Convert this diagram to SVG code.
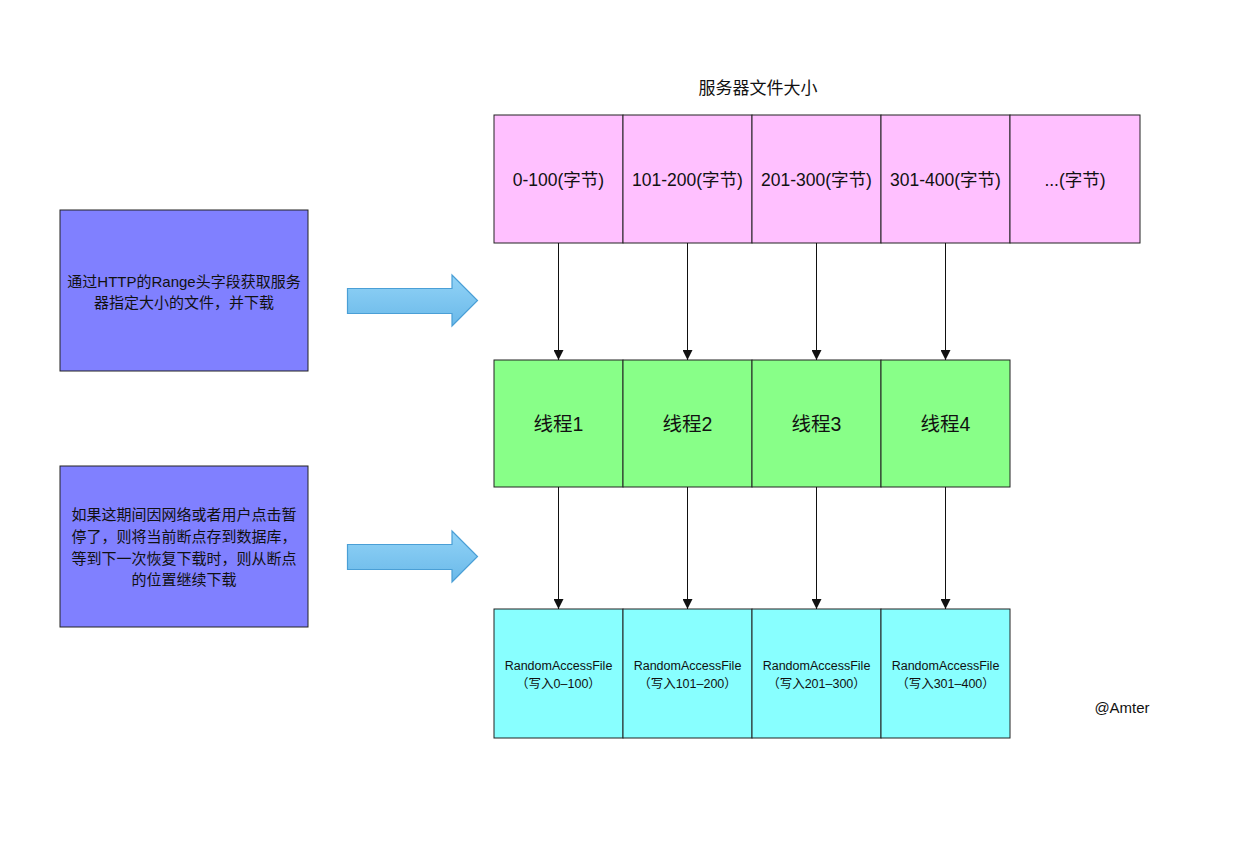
<svg xmlns="http://www.w3.org/2000/svg" width="1240" height="854" viewBox="0 0 1240 854">
<style>
text{font-family:"Liberation Sans","Noto Sans CJK SC",sans-serif;fill:#111;text-anchor:middle}
.box{stroke:#222;stroke-width:1}
.pink{fill:#FFC0FF}
.green{fill:#88FF88}
.cyan{fill:#88FFFF}
.purple{fill:#8080FF}
.t17{font-size:17.5px}
.title{font-size:17px}
.t19{font-size:19.5px}
.t15{font-size:15px}
.t12{font-size:12.5px}
.conn{stroke:#111;stroke-width:1;fill:none;marker-end:url(#ah)}
.barrow{fill:url(#bg);stroke:#4A9FD6;stroke-width:1.2}
</style>
<defs>
<marker id="ah" viewBox="0 0 10 10" refX="10" refY="5" markerWidth="11" markerHeight="10" markerUnits="userSpaceOnUse" orient="auto">
<path d="M0,0 L10,5 L0,10 z" fill="#111"/>
</marker>
<linearGradient id="bg" x1="0" y1="0" x2="0" y2="1">
<stop offset="0" stop-color="#92D3F7"/>
<stop offset="1" stop-color="#6AB9E9"/>
</linearGradient>
</defs>
<rect width="1240" height="854" fill="#fff"/>

<text id="title" class="title" x="758" y="94">服务器文件大小</text>

<g id="server-file">
<g id="seg1"><rect class="box pink" x="494" y="115" width="129" height="128"/><text class="t17" x="558.5" y="186">0-100(字节)</text></g>
<g id="seg2"><rect class="box pink" x="623" y="115" width="129" height="128"/><text class="t17" x="687.5" y="186">101-200(字节)</text></g>
<g id="seg3"><rect class="box pink" x="752" y="115" width="129" height="128"/><text class="t17" x="816.5" y="186">201-300(字节)</text></g>
<g id="seg4"><rect class="box pink" x="881" y="115" width="129" height="128"/><text class="t17" x="945.5" y="186">301-400(字节)</text></g>
<g id="seg5"><rect class="box pink" x="1010" y="115" width="130" height="128"/><text class="t17" x="1075" y="186">...(字节)</text></g>
</g>

<g id="threads">
<g id="thread1"><rect class="box green" x="494" y="360" width="129" height="127"/><text class="t19" x="558.5" y="431">线程1</text></g>
<g id="thread2"><rect class="box green" x="623" y="360" width="129" height="127"/><text class="t19" x="687.5" y="431">线程2</text></g>
<g id="thread3"><rect class="box green" x="752" y="360" width="129" height="127"/><text class="t19" x="816.5" y="431">线程3</text></g>
<g id="thread4"><rect class="box green" x="881" y="360" width="129" height="127"/><text class="t19" x="945.5" y="431">线程4</text></g>
</g>

<g id="files">
<g id="raf1"><rect class="box cyan" x="494" y="609" width="129" height="129"/><text class="t12" x="558.5" y="670">RandomAccessFile</text><text class="t12" x="558.5" y="688">（写入0–100）</text></g>
<g id="raf2"><rect class="box cyan" x="623" y="609" width="129" height="129"/><text class="t12" x="687.5" y="670">RandomAccessFile</text><text class="t12" x="687.5" y="688">（写入101–200）</text></g>
<g id="raf3"><rect class="box cyan" x="752" y="609" width="129" height="129"/><text class="t12" x="816.5" y="670">RandomAccessFile</text><text class="t12" x="816.5" y="688">（写入201–300）</text></g>
<g id="raf4"><rect class="box cyan" x="881" y="609" width="129" height="129"/><text class="t12" x="945.5" y="670">RandomAccessFile</text><text class="t12" x="945.5" y="688">（写入301–400）</text></g>
</g>

<g id="note1">
<rect class="box purple" x="60" y="210" width="248" height="161"/>
<text class="t15" x="184" y="287">通过HTTP的Range头字段获取服务</text>
<text class="t15" x="184" y="308">器指定大小的文件，并下载</text>
</g>

<g id="note2">
<rect class="box purple" x="60" y="466" width="248" height="161"/>
<text class="t15" x="184" y="520">如果这期间因网络或者用户点击暂</text>
<text class="t15" x="184" y="542">停了，则将当前断点存到数据库，</text>
<text class="t15" x="184" y="564">等到下一次恢复下载时，则从断点</text>
<text class="t15" x="184" y="585">的位置继续下载</text>
</g>

<g id="block-arrow1"><path class="barrow" d="M347.5,288.5 L452,288.5 L452,275 L477.5,300.5 L452,326 L452,313.5 L347.5,313.5 Z"/></g>
<g id="block-arrow2"><path class="barrow" d="M347.5,544.5 L452,544.5 L452,531 L477.5,556.5 L452,582 L452,569.5 L347.5,569.5 Z"/></g>

<g id="connectors">
<line class="conn" x1="558.5" y1="243" x2="558.5" y2="360"/>
<line class="conn" x1="687.5" y1="243" x2="687.5" y2="360"/>
<line class="conn" x1="816.5" y1="243" x2="816.5" y2="360"/>
<line class="conn" x1="945.5" y1="243" x2="945.5" y2="360"/>
<line class="conn" x1="558.5" y1="487" x2="558.5" y2="609"/>
<line class="conn" x1="687.5" y1="487" x2="687.5" y2="609"/>
<line class="conn" x1="816.5" y1="487" x2="816.5" y2="609"/>
<line class="conn" x1="945.5" y1="487" x2="945.5" y2="609"/>
</g>

<text id="credit" class="t15" x="1122" y="713">@Amter</text>
</svg>
